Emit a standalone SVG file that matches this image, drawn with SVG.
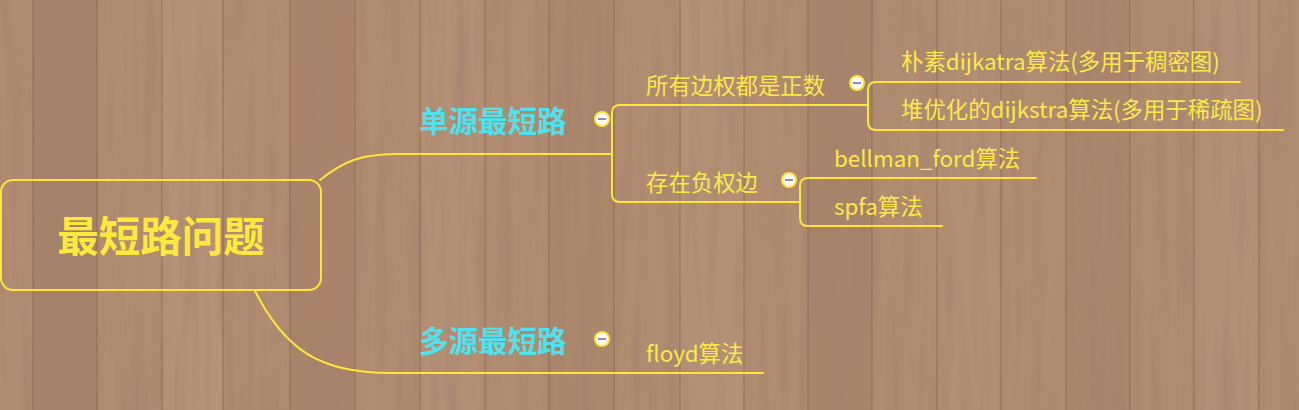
<svg xmlns="http://www.w3.org/2000/svg" width="1299" height="410" viewBox="0 0 1299 410">
<defs>
<filter id="grain" x="0" y="0" width="100%" height="100%">
<feTurbulence type="fractalNoise" baseFrequency="0.09 0.006" numOctaves="3" seed="7" result="n"/>
<feColorMatrix in="n" type="matrix" values="0 0 0 0 0.35  0 0 0 0 0.22  0 0 0 0 0.15  0 0 0 1.1 -0.45" result="c"/>
<feComposite in="c" in2="SourceGraphic" operator="in"/>
</filter>
<style>
.ln{fill:none;stroke:#fde53c;stroke-width:2;stroke-linecap:round}
.box{fill:none;stroke:#fde53c;stroke-width:2}
.root{font-family:"Noto Sans CJK SC","Noto Sans",sans-serif;font-weight:bold;font-size:41.5px;fill:#fde83e}
.main{font-family:"Noto Sans CJK SC","Noto Sans",sans-serif;font-weight:bold;font-size:29.5px;fill:#4fe2ee}
.sub{font-family:"Noto Sans CJK SC","Noto Sans",sans-serif;font-size:22.4px;fill:#fde84a}
.tg circle{fill:#ffffff;stroke:#fde53c;stroke-width:2}
.tg line{stroke:#8a8fb5;stroke-width:2}
.seam{fill:#8a654d;opacity:0.4}
</style>
</defs>
<g id="background">
<rect x="0" y="0" width="1299" height="410" fill="#b08c70"/>
<rect x="33" y="0" width="64" height="410" fill="#a7826a"/>
<rect x="162" y="0" width="61" height="410" fill="#b59276"/>
<rect x="290" y="0" width="65" height="410" fill="#a9846a"/>
<rect x="420" y="0" width="65" height="410" fill="#b38f74"/>
<rect x="548" y="0" width="66" height="410" fill="#ab876c"/>
<rect x="680" y="0" width="64" height="410" fill="#b49175"/>
<rect x="808" y="0" width="64" height="410" fill="#a8846a"/>
<rect x="936" y="0" width="65" height="410" fill="#b28f73"/>
<rect x="1066" y="0" width="64" height="410" fill="#aa866c"/>
<rect x="1194" y="0" width="65" height="410" fill="#b39075"/>
<rect x="0" y="0" width="1299" height="410" fill="#b08c70" filter="url(#grain)"/>
<rect class="seam" x="32" y="0" width="2" height="410"/>
<rect class="seam" x="96" y="0" width="2" height="410"/>
<rect class="seam" x="161" y="0" width="2" height="410"/>
<rect class="seam" x="222" y="0" width="2" height="410"/>
<rect class="seam" x="289" y="0" width="2" height="410"/>
<rect class="seam" x="354" y="0" width="2" height="410"/>
<rect class="seam" x="419" y="0" width="2" height="410"/>
<rect class="seam" x="484" y="0" width="2" height="410"/>
<rect class="seam" x="548" y="0" width="2" height="410"/>
<rect class="seam" x="613" y="0" width="2" height="410"/>
<rect class="seam" x="679" y="0" width="2" height="410"/>
<rect class="seam" x="743" y="0" width="2" height="410"/>
<rect class="seam" x="807" y="0" width="2" height="410"/>
<rect class="seam" x="871" y="0" width="2" height="410"/>
<rect class="seam" x="936" y="0" width="2" height="410"/>
<rect class="seam" x="1000" y="0" width="2" height="410"/>
<rect class="seam" x="1065" y="0" width="2" height="410"/>
<rect class="seam" x="1129" y="0" width="2" height="410"/>
<rect class="seam" x="1193" y="0" width="2" height="410"/>
<rect class="seam" x="1258" y="0" width="2" height="410"/>
</g>
<g id="connectors">
<path class="ln" d="M320,180 C345,160 362,154 400,154 H612"/>
<path class="ln" d="M868,105 H620 Q612,105 612,113 V194 Q612,202 620,202 H800"/>
<path class="ln" d="M1240,82 H876 Q868,82 868,90 V122 Q868,130 876,130 H1283"/>
<path class="ln" d="M1036,178 H808 Q800,178 800,186 V218 Q800,226 808,226 H942"/>
<path class="ln" d="M255,291 C285,350 320,373 390,373 H763"/>
</g>
<g id="node-root">
<rect class="box" x="1" y="180" width="320" height="110" rx="12"/>
<text class="root" x="161" y="252" text-anchor="middle">最短路问题</text>
</g>
<g id="node-single">
<text class="main" x="419" y="131.5">单源最短路</text>
<g class="tg"><circle cx="602" cy="119" r="7"/><line x1="598" y1="119" x2="606" y2="119"/></g>
</g>
<g id="node-positive">
<text class="sub" x="646" y="94">所有边权都是正数</text>
<g class="tg"><circle cx="857" cy="83" r="7"/><line x1="853" y1="83" x2="861" y2="83"/></g>
</g>
<g id="node-naive">
<text class="sub" x="901" y="70">朴素dijkatra算法(多用于稠密图)</text>
</g>
<g id="node-heap">
<text class="sub" x="901" y="118">堆优化的dijkstra算法(多用于稀疏图)</text>
</g>
<g id="node-negative">
<text class="sub" x="646" y="191">存在负权边</text>
<g class="tg"><circle cx="789" cy="180" r="7"/><line x1="785" y1="180" x2="793" y2="180"/></g>
</g>
<g id="node-bellman">
<text class="sub" x="834" y="166.5">bellman_ford算法</text>
</g>
<g id="node-spfa">
<text class="sub" x="834" y="214.5">spfa算法</text>
</g>
<g id="node-multi">
<text class="main" x="419" y="351.5">多源最短路</text>
<g class="tg"><circle cx="602" cy="339" r="7"/><line x1="598" y1="339" x2="606" y2="339"/></g>
</g>
<g id="node-floyd">
<text class="sub" x="646" y="361.5">floyd算法</text>
</g>
</svg>
